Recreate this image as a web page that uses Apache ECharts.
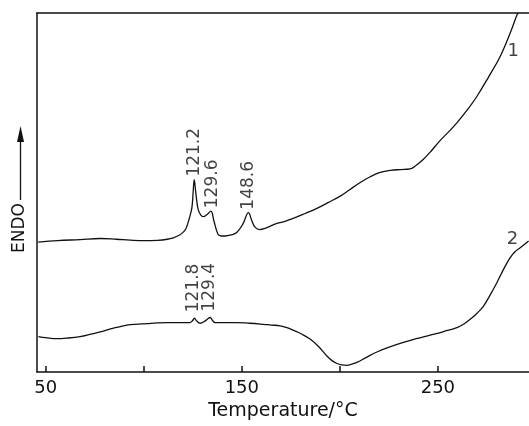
<!DOCTYPE html>
<html>
<head>
<meta charset="utf-8">
<script src="https://cdn.jsdelivr.net/npm/echarts@6/dist/echarts.min.js"></script>
<style>
  html, body { margin: 0; padding: 0; background: #fff; }
  #chart { width: 529px; height: 426px; }
</style>
</head>
<body>
<div id="chart"></div>
<script>
// DSC trace 1 (upper) [temperature, signal]
const curve1 = [
  [46.1, 36.2], [56, 36.6], [67.5, 36.9], [77.7, 37.2], [86, 37.0], [93.0, 36.75],
  [100, 36.6], [106.8, 36.7], [112, 37.0], [115.0, 37.4], [118, 38.1], [120.0, 38.9],
  [121.5, 40.0], [122.6, 41.7], [123.7, 43.8], [124.6, 46.1], [125.2, 50.5], [125.7, 53.6],
  [126.5, 50.0], [127.7, 45.3], [129, 43.8], [130.3, 43.3], [132.3, 43.9], [134.2, 44.8],
  [135.8, 42.0], [137.9, 38.3], [139.5, 37.9], [141.5, 37.9], [144.5, 38.2], [147.4, 38.9],
  [150.5, 41.2], [153.4, 44.4], [155, 42.3], [156.8, 40.3], [159.3, 39.7], [161.8, 40.0],
  [164.4, 40.6], [167.9, 41.4], [172, 42.0], [176.2, 42.8], [182, 44.1], [188.3, 45.6],
  [194, 47.2], [200.2, 49.0], [205, 50.8], [210.4, 52.8], [215.5, 54.4], [220.6, 55.6],
  [226, 56.2], [231, 56.4], [235.9, 56.6], [239, 57.6], [242.5, 59.2], [246.5, 61.5],
  [251, 64.4], [255.5, 66.9], [259.7, 69.4], [265, 73.0], [269.9, 76.75], [276, 82.3],
  [281.8, 87.9], [286.9, 94.4], [290.3, 99.4], [291, 100]
];

// DSC trace 2 (lower)
const curve2 = [
  [46.2, 9.9], [50, 9.6], [55.6, 9.3], [61.5, 9.5], [67.5, 9.9], [72.5, 10.5], [77.7, 11.2],
  [83.5, 12.1], [89.6, 12.9], [95.5, 13.3], [101.5, 13.5], [106.5, 13.7], [111.7, 13.8],
  [118, 13.8], [123.5, 13.8], [124.8, 14.3], [125.8, 15.0], [127, 14.2], [128.7, 13.6],
  [131.2, 14.2], [132.5, 14.8], [133.8, 15.2], [135, 14.4], [136.4, 13.8], [142, 13.8],
  [147.4, 13.8], [154, 13.6], [161.0, 13.3], [165, 13.1], [169.5, 12.9], [173.0, 12.4],
  [176.5, 11.6], [180.5, 10.6], [184.8, 9.2], [189, 7.2], [193.4, 4.5], [196, 3.2],
  [198.5, 2.4], [201, 2.0], [203.6, 1.9], [206, 2.2], [208.7, 2.7], [213.5, 4.1],
  [218.9, 5.6], [225.5, 7.0], [232.4, 8.25], [239, 9.3], [246.1, 10.3], [253, 11.3],
  [259.7, 12.4], [263.3, 13.4], [266.5, 14.7], [270, 16.4], [273.3, 18.4], [276.7, 21.5],
  [280.1, 24.9], [283.5, 28.6], [286.9, 31.9], [289.5, 33.6], [292.0, 34.6], [296.3, 36.5]
];

// peak annotations [temperature, signal, text]
const peaks1 = [[125.7, 53.6, '121.2'], [135.2, 44.8, '129.6'], [153.4, 44.4, '148.6']];
const peaks2 = [[125.3, 15.0, '121.8'], [133.5, 15.2, '129.4']];
const curveNames = [[288.5, 89.2, '1'], [288.1, 36.9, '2']];

const xTicks = [50, 100, 150, 200, 250];
const xLabels = [50, 150, 250];

const ink = '#111';
const font = 'DejaVu Sans';

const chart = echarts.init(document.getElementById('chart'), null, { renderer: 'canvas' });

const axisCommon = {
  type: 'value',
  min: 45.5,
  max: 296.5,
  splitLine: { show: false },
  axisLine: { show: true, lineStyle: { color: ink, width: 1.5 } }
};

function labelSeries(data, dist) {
  return {
    type: 'scatter',
    symbolSize: 0,
    silent: true,
    data: data.map(d => ({ value: [d[0], d[1]], name: d[2] })),
    label: {
      show: true,
      formatter: p => p.name,
      position: 'top',
      distance: dist,
      rotate: 90,
      align: 'left',
      verticalAlign: 'middle',
      color: ink,
      fontFamily: font,
      fontSize: 17
    }
  };
}

chart.setOption({
  backgroundColor: '#fff',
  animation: false,
  grid: { left: 37, right: 0, top: 13, bottom: 53 },
  xAxis: [
    Object.assign({}, axisCommon, {
      position: 'bottom',
      name: 'Temperature/°C',
      nameLocation: 'middle',
      nameGap: 26,
      nameTextStyle: { color: ink, fontFamily: font, fontSize: 19 },
      axisTick: { show: true, inside: true, length: 6, customValues: xTicks,
                  lineStyle: { color: ink, width: 1.5 } },
      axisLabel: { customValues: xLabels, color: ink, fontFamily: font, fontSize: 18, margin: 7 }
    }),
    Object.assign({}, axisCommon, {
      position: 'top',
      axisTick: { show: false },
      axisLabel: { show: false }
    })
  ],
  yAxis: {
    type: 'value',
    min: 0,
    max: 100,
    splitLine: { show: false },
    axisTick: { show: false },
    axisLabel: { show: false },
    axisLine: { show: true, lineStyle: { color: ink, width: 1.5 } }
  },
  series: [
    {
      type: 'line', data: curve1, showSymbol: false, smooth: 0.4,
      lineStyle: { color: ink, width: 1.3 }, silent: true
    },
    {
      type: 'line', data: curve2, showSymbol: false, smooth: 0.4,
      lineStyle: { color: ink, width: 1.3 }, silent: true
    },
    labelSeries(peaks1, 3),
    labelSeries(peaks2, 6),
    {
      type: 'scatter',
      symbolSize: 0,
      silent: true,
      data: curveNames.map(d => ({ value: [d[0], d[1]], name: d[2] })),
      label: {
        show: true, formatter: p => p.name, position: 'inside',
        color: ink, fontFamily: font, fontSize: 18
      }
    }
  ],
  graphic: [
    {
      type: 'text', x: 20, y: 228, rotation: Math.PI / 2,
      style: { text: 'ENDO', fill: ink, font: '17px "DejaVu Sans"', textAlign: 'center', textVerticalAlign: 'middle' }
    },
    { type: 'line', shape: { x1: 20.5, y1: 200, x2: 20.5, y2: 140 }, style: { stroke: ink, lineWidth: 1.3 } },
    { type: 'polygon', shape: { points: [[20.5, 126], [17, 142], [24, 142]] }, style: { fill: ink } }
  ]
});
</script>
</body>
</html>
